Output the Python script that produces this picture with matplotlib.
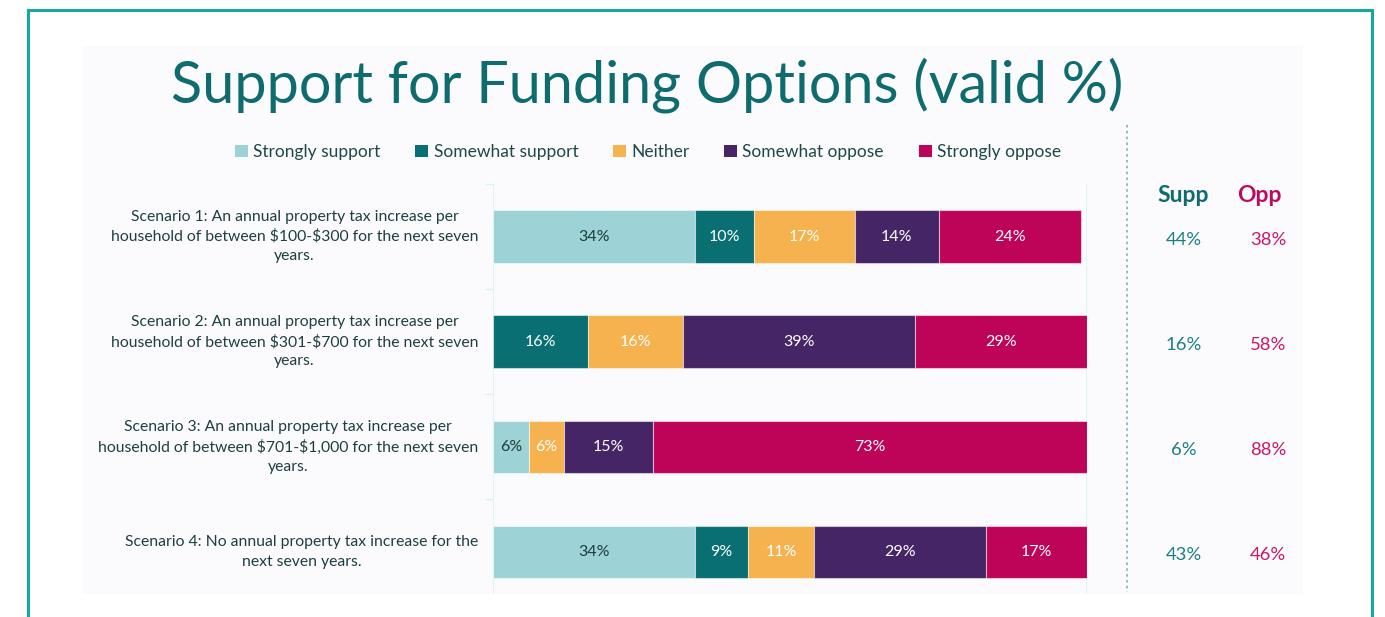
import numpy as np
import matplotlib.pyplot as plt
from matplotlib.patches import Rectangle, Patch
from matplotlib.lines import Line2D

plt.rcParams['font.family'] = ['Lato', 'DejaVu Sans']

scenarios = [
    "Scenario 1: An annual property tax increase per\nhousehold of between \\$100-\\$300 for the next seven\nyears.",
    "Scenario 2: An annual property tax increase per\nhousehold of between \\$301-\\$700 for the next seven\nyears.",
    "Scenario 3: An annual property tax increase per\nhousehold of between \\$701-\\$1,000 for the next seven\nyears.",
    "Scenario 4: No annual property tax increase for the\nnext seven years.",
]
responses = ["Strongly support", "Somewhat support", "Neither", "Somewhat oppose", "Strongly oppose"]
strongly_support = [34, 0, 6, 34]
somewhat_support = [10, 16, 0, 9]
neither = [17, 16, 6, 11]
somewhat_oppose = [14, 39, 15, 29]
strongly_oppose = [24, 29, 73, 17]
supp_totals = ["44%", "16%", "6%", "43%"]
opp_totals = ["38%", "58%", "88%", "46%"]

colors = ["#9dd3d6", "#0a6f72", "#f6b24f", "#452566", "#be0459"]
label_colors = ["#1c3d3d", "white", "white", "white", "white"]
teal = "#0e6b6e"
magenta = "#be0a5a"

W, H = 1385, 617
fig = plt.figure(figsize=(W / 100, H / 100), dpi=100)
fig.patch.set_facecolor("white")

# outer frame and inner panel
fig.patches.append(Rectangle((28 / W, -0.05), 1344 / W, 1.05 - 10 / H, transform=fig.transFigure,
                             fill=False, edgecolor="#19a89f", linewidth=2.2, zorder=-2))
fig.patches.append(Rectangle((82 / W, 1 - 594 / H), 1221 / W, 548 / H, transform=fig.transFigure,
                             facecolor="#fbfbfe", edgecolor="none", zorder=-2))

fig.text(647 / W, 1 - 85 / H, "Support for Funding Options (valid %)", ha="center", va="center",
         fontsize=41.5, color=teal)

ax = fig.add_axes([493 / W, 1 - 594 / H, 594 / W, 410 / H])
ax.patch.set_visible(False)
ax.set_xlim(0, 100)
ax.set_ylim(3 + 42 / 105, -0.5)
for s in ax.spines.values():
    s.set_visible(False)
ax.set_xticks([])
ax.set_yticks([-0.5, 0.5, 1.5, 2.5])
ax.set_yticklabels([])
ax.tick_params(axis="y", length=6, color="#d5f3f6", width=1)
ax.axvline(0, color="#d5f3f6", lw=1.2, zorder=0)
ax.axvline(100, color="#d5f3f6", lw=1.2, zorder=0)

series = [strongly_support, somewhat_support, neither, somewhat_oppose, strongly_oppose]
y = np.arange(len(scenarios))
left = np.zeros(len(scenarios))
for vals, col, tcol in zip(series, colors, label_colors):
    vals = np.array(vals, dtype=float)
    ax.barh(y, vals, left=left, height=0.5, color=col, edgecolor=(1, 1, 1, 0.5), linewidth=0.8)
    for yi, (l, v) in enumerate(zip(left, vals)):
        if v > 0:
            ax.text(l + v / 2, yi, f"{int(v)}%", ha="center", va="center", fontsize=11.5, color=tcol)
    left += vals

for yi, lab in enumerate(scenarios):
    ax.text(-2.5, yi, lab, ha="right", va="center", multialignment="center",
            fontsize=11.3, color="#1f3f3f", linespacing=1.48)

# legend
handles = [Patch(facecolor=c, edgecolor="none") for c in colors]
fig.legend(handles, responses, loc="center", bbox_to_anchor=(648 / W, 1 - 152 / H), ncol=5,
           frameon=False, fontsize=12.5, handlelength=0.75, handleheight=0.75, handletextpad=0.3,
           columnspacing=2.0, labelcolor="#1f4848")

# summary columns
fig.add_artist(Line2D([1127 / W, 1127 / W], [1 - 125 / H, 1 - 592 / H], transform=fig.transFigure,
                      color="#7ab3b8", lw=1.2, linestyle=(0, (1.5, 2))))
fig.text(1183 / W, 1 - 195 / H, "Supp", ha="center", va="center", fontsize=16.5,
         fontweight="bold", color=teal)
fig.text(1259 / W, 1 - 195 / H, "Opp", ha="center", va="center", fontsize=16.5,
         fontweight="bold", color=magenta)
for yi in range(len(scenarios)):
    ytxt = (ax.transData.transform((0, yi))[1] - 3) / H
    fig.text(1184 / W, ytxt, supp_totals[yi], ha="center", va="center", fontsize=13.3, color="#1d7f80")
    fig.text(1268 / W, ytxt, opp_totals[yi], ha="center", va="center", fontsize=13.3, color="#c8186a")

fig.savefig("out.png", dpi=100)
